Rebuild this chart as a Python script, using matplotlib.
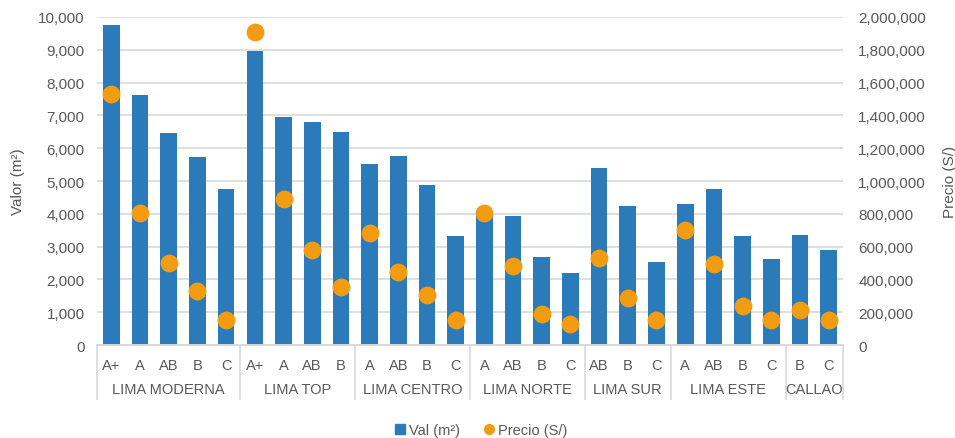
import matplotlib
matplotlib.use("Agg")
import matplotlib.pyplot as plt
from matplotlib.ticker import FuncFormatter, MultipleLocator
from matplotlib.lines import Line2D

plt.rcParams['font.family'] = ['Liberation Sans', 'DejaVu Sans']

groups = ["LIMA MODERNA", "LIMA TOP", "LIMA CENTRO", "LIMA NORTE", "LIMA SUR", "LIMA ESTE", "CALLAO"]
sub_labels = [
    ["A+", "A", "AB", "B", "C"],
    ["A+", "A", "AB", "B"],
    ["A", "AB", "B", "C"],
    ["A", "AB", "B", "C"],
    ["AB", "B", "C"],
    ["A", "AB", "B", "C"],
    ["B", "C"],
]
val_m2 = [9750, 7620, 6450, 5740, 4770,
          8970, 6940, 6800, 6480,
          5520, 5760, 4890, 3320,
          3960, 3920, 2680, 2190,
          5410, 4230, 2540,
          4300, 4770, 3320, 2610,
          3350, 2900]
precio = [1528000, 807000, 500000, 329000, 154000,
          1908000, 888000, 577000, 352000,
          683000, 443000, 303000, 154000,
          803000, 484000, 191000, 126000,
          528000, 289000, 150000,
          703000, 494000, 236000, 150000,
          215000, 150000]

blue = '#2b7bba'
orange = '#f39c12'
gray_txt = '#595959'
grid_c = '#d9d9d9'

fig = plt.figure(figsize=(9.55, 4.39), dpi=100)
ax = fig.add_axes([0.1016, 0.2118, 0.7811, 0.7472])
ax2 = ax.twinx()

inner = [l for g in sub_labels for l in g]
x = list(range(len(inner)))

ax.bar(x, val_m2, width=0.58, color=blue, zorder=2)
ax2.scatter(x, precio, s=165, color=orange, zorder=3, linewidths=0)

ax.set_xlim(-0.5, len(inner) - 0.5)
ax.set_ylim(0, 10000)
ax2.set_ylim(0, 2000000)
ax.yaxis.set_major_locator(MultipleLocator(1000))
ax2.yaxis.set_major_locator(MultipleLocator(200000))
fmt = FuncFormatter(lambda v, p: f"{int(v):,}")
ax.yaxis.set_major_formatter(fmt)
ax2.yaxis.set_major_formatter(fmt)

ax.grid(axis='y', color=grid_c, linewidth=1.2, zorder=0)
ax.set_axisbelow(True)
for a in (ax, ax2):
    for s in ['top', 'left', 'right']:
        a.spines[s].set_visible(False)
    a.spines['bottom'].set_color(grid_c)
    a.spines['bottom'].set_linewidth(1.2)
    a.tick_params(axis='y', length=0, labelsize=11, labelcolor=gray_txt)
ax.tick_params(axis='y', pad=9)
ax2.tick_params(axis='y', pad=11)

ax.set_xticks(x)
ax.set_xticklabels(inner)
ax.tick_params(axis='x', length=0, labelsize=10.5, labelcolor=gray_txt, pad=9)
ax2.tick_params(axis='x', length=0)

ax.set_ylabel("Valor (m²)", color=gray_txt, fontsize=11, labelpad=9)
ax2.set_ylabel("Precio (S/)", color=gray_txt, fontsize=11, labelpad=12)

# multi-level category axis
trans = ax.get_xaxis_transform()
start = 0
bounds = [-0.5]
for g, subs in zip(groups, sub_labels):
    n = len(subs)
    center = start + (n - 1) / 2
    ax.text(center, -0.135, g, transform=trans, ha='center', va='center',
            fontsize=10.5, color=gray_txt)
    start += n
    bounds.append(start - 0.5)
for b in bounds:
    ax.plot([b, b], [0, -0.165], transform=trans, color=grid_c, linewidth=1.2,
            clip_on=False, zorder=1)

handles = [Line2D([], [], marker='s', linestyle='none', color=blue, markersize=7),
           Line2D([], [], marker='o', linestyle='none', color=orange, markersize=7)]
fig.legend(handles, ["Val (m²)", "Precio (S/)"], loc='center', bbox_to_anchor=(0.503, 0.018),
           ncol=2, frameon=False, fontsize=10.5, labelcolor=gray_txt,
           handletextpad=0.1, columnspacing=1.5, handlelength=1.0)

fig.savefig("out.png", dpi=100)
